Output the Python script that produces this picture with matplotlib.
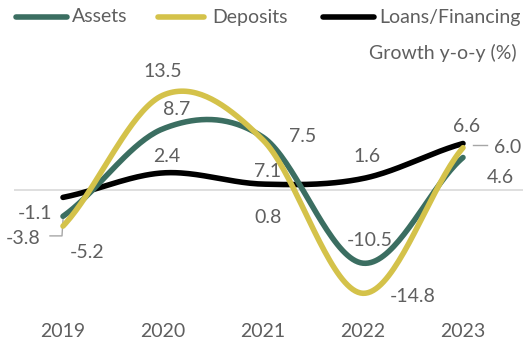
import numpy as np
import matplotlib
matplotlib.use('Agg')
import matplotlib.pyplot as plt
from matplotlib.lines import Line2D

years = [2019, 2020, 2021, 2022, 2023]
assets = [-3.8, 8.7, 7.5, -10.5, 4.6]
deposits = [-5.2, 13.5, 7.1, -14.8, 6.0]
loans = [-1.1, 2.4, 0.8, 1.6, 6.6]
series_names = ['Assets', 'Deposits', 'Loans/Financing']

GREEN = '#3b6e61'
YELLOW = '#d4c24a'
BLACK = '#000000'
TEXT = '#5f5f5f'
FONT = ['Lato', 'DejaVu Sans']
FS = 14
W, H = 531, 343


def smooth(x, y, n=40):
    # excel-like smoothed line (cardinal spline through the points)
    x = np.asarray(x, float)
    y = np.asarray(y, float)
    m = np.zeros_like(y)
    m[1:-1] = (y[2:] - y[:-2]) / 2
    m[0] = (y[1] - y[0]) * 0.8
    m[-1] = (y[-1] - y[-2]) * 0.8
    xs, ys = [], []
    for i in range(len(x) - 1):
        t = np.linspace(0, 1, n)
        h00 = 2 * t**3 - 3 * t**2 + 1
        h10 = t**3 - 2 * t**2 + t
        h01 = -2 * t**3 + 3 * t**2
        h11 = t**3 - t**2
        xs.append(x[i] + t * (x[i + 1] - x[i]))
        ys.append(h00 * y[i] + h10 * m[i] + h01 * y[i + 1] + h11 * m[i + 1])
    return np.concatenate(xs), np.concatenate(ys)


fig = plt.figure(figsize=(W / 100, H / 100), dpi=100)
ax = fig.add_axes([14 / W, 28 / H, 509 / W, 266 / H])
ax.set_xlim(2018.51, 2023.6)
ax.set_ylim(-17.9, 20.1)

ax.axhline(0, color='#d9d9d9', linewidth=1.2, zorder=1)

for vals, col, z in [(loans, BLACK, 3), (assets, GREEN, 4), (deposits, YELLOW, 5)]:
    sx, sy = smooth(years, vals)
    ax.plot(sx, sy, color=col, linewidth=4, solid_capstyle='round', zorder=z)

# data labels
labels = [
    ('-1.1', 2018.72, -3.4), ('-3.8', 2018.6, -6.9), ('-5.2', 2019.24, -8.9),
    ('13.5', 2020.0, 16.9), ('8.7', 2020.14, 11.4), ('2.4', 2020.04, 4.7),
    ('7.5', 2021.4, 7.6), ('7.1', 2021.05, 2.6), ('0.8', 2021.05, -4.0),
    ('1.6', 2022.04, 4.7), ('-10.5', 2022.07, -7.3), ('-14.8', 2022.5, -15.2),
    ('6.6', 2023.04, 9.0), ('6.0', 2023.45, 6.1), ('4.6', 2023.37, 1.7),
]
for txt, x, y in labels:
    ax.text(x, y, txt, ha='center', va='center', fontsize=FS, color=TEXT, family=FONT)

ax.plot([2018.87, 2018.99, 2019.0], [-6.6, -6.6, -4.3], color='#a6a6a6', linewidth=1, zorder=2)
ax.plot([2023.1, 2023.24], [6.4, 6.4], color='#a6a6a6', linewidth=1, zorder=2)

ax.set_xticks(years)
ax.set_xticklabels([str(y) for y in years], fontsize=FS, color=TEXT, family=FONT)
ax.tick_params(axis='x', length=0, pad=6)
ax.set_yticks([])
for s in ax.spines.values():
    s.set_visible(False)

# legend drawn by hand so the entries sit where the original has them
leg_y = 1 - 17 / H
for name, col, x0, x1, tx in zip(series_names, (GREEN, YELLOW, BLACK),
                                 (16, 158, 323), (67, 204, 374), (72, 212, 379)):
    fig.add_artist(Line2D([x0 / W, x1 / W], [leg_y, leg_y], color=col, linewidth=4,
                          solid_capstyle='round', transform=fig.transFigure))
    fig.text(tx / W, leg_y, name, ha='left', va='center', fontsize=FS,
             color=TEXT, family=FONT)

fig.text(517 / W, 1 - 53 / H, 'Growth y-o-y (%)', ha='right', va='center',
         fontsize=FS, color=TEXT, family=FONT)

fig.savefig('out.png', dpi=100)
